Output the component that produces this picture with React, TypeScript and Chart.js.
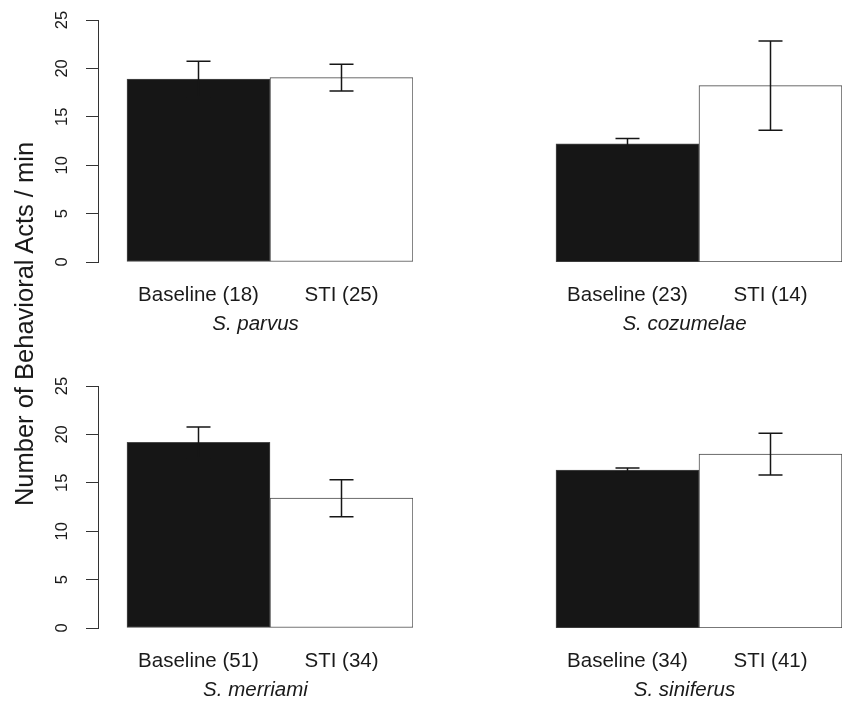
import React, { useEffect, useRef } from 'react';
import { Chart, registerables } from 'chart.js';

Chart.register(...registerables);

// ---- data ----
const groups = ['Baseline', 'STI'];
const species = ['S. parvus', 'S. cozumelae', 'S. merriami', 'S. siniferus'];
const sampleSizes = [
  [18, 25],
  [23, 14],
  [51, 34],
  [34, 41],
];
const meanActs = [
  [18.9, 19.05],
  [12.2, 18.22],
  [19.18, 13.41],
  [16.32, 17.96],
];
const errActs = [
  [1.83, 1.38],
  [0.55, 4.6],
  [1.58, 1.91],
  [0.21, 2.15],
];
const yTicks = [0, 5, 10, 15, 20, 25];
const yTitle = 'Number of Behavioral Acts / min';

// ---- style ----
const FONT = "'Liberation Sans', Arial, Helvetica, sans-serif";
const TEXT = '#1a1a1a';
const AXIS = '#333333';
const barFill = ['#161616', '#ffffff'];

const errorBarPlugin = {
  id: 'errorBars',
  afterDatasetsDraw(chart: any, _args: any, opts: any) {
    const errs: number[] = opts.errors || [];
    const meta = chart.getDatasetMeta(0);
    const ys = chart.scales.y;
    const ctx = chart.ctx;
    ctx.save();
    ctx.strokeStyle = opts.color;
    ctx.lineWidth = opts.lineWidth;
    meta.data.forEach((bar: any, i: number) => {
      const v = chart.data.datasets[0].data[i].y;
      const e = errs[i];
      const top = ys.getPixelForValue(v + e);
      const bot = ys.getPixelForValue(v - e);
      const half = opts.capWidth / 2;
      ctx.beginPath();
      ctx.moveTo(bar.x, top);
      ctx.lineTo(bar.x, bot);
      ctx.moveTo(bar.x - half, top);
      ctx.lineTo(bar.x + half, top);
      ctx.moveTo(bar.x - half, bot);
      ctx.lineTo(bar.x + half, bot);
      ctx.stroke();
    });
    ctx.restore();
  },
};

const PANEL_W = 420;
const PANEL_H = 336;

function Panel({ index, left, top, showAxis }: { index: number; left: number; top: number; showAxis: boolean }) {
  const ref = useRef<HTMLCanvasElement | null>(null);
  useEffect(() => {
    if (!ref.current) return;
    const chart = new Chart(ref.current, {
      type: 'bar',
      data: {
        datasets: [
          {
            data: meanActs[index].map((v, i) => ({ x: i + 0.5, y: v })) as any,
            backgroundColor: barFill,
            borderColor: '#4a4a4a',
            borderWidth: 1,
            borderSkipped: false,
            categoryPercentage: 1,
            barPercentage: 1,
          },
        ],
      },
      options: {
        animation: false,
        responsive: false,
        events: [],
        layout: { padding: { top: 20, right: 7, bottom: 0, left: 0 } },
        plugins: {
          legend: { display: false },
          tooltip: { enabled: false },
          errorBars: { errors: errActs[index], color: '#161616', lineWidth: 1.5, capWidth: 24 },
        } as any,
        scales: {
          x: {
            type: 'linear',
            offset: false,
            min: -29 / 143,
            max: groups.length,
            afterBuildTicks: (s: any) => {
              s.ticks = groups.map((_, i) => ({ value: i + 0.5 }));
            },
            afterFit: (s: any) => {
              s.height = PANEL_H - 262;
              s.paddingLeft = 0;
              s.paddingRight = 0;
            },
            grid: { display: false, offset: false },
            border: { display: false },
            ticks: {
              autoSkip: false,
              maxRotation: 0,
              minRotation: 0,
              padding: 13,
              color: TEXT,
              font: { family: FONT, size: 20.5 },
              callback: (_v: any, i: number) => `${groups[i]} (${sampleSizes[index][i]})`,
            },
            title: {
              display: true,
              text: species[index],
              color: TEXT,
              font: { family: FONT, size: 20.5, style: 'italic' },
              padding: { top: 0, bottom: -1 },
            },
          },
          y: {
            type: 'linear',
            min: 0,
            max: 25,
            afterBuildTicks: (s: any) => {
              s.ticks = yTicks.map((v) => ({ value: v }));
            },
            afterFit: (s: any) => {
              s.width = 98;
              s.paddingTop = 0;
              s.paddingBottom = 0;
            },
            grid: {
              display: showAxis,
              drawOnChartArea: false,
              drawTicks: true,
              tickLength: 12,
              color: AXIS,
              lineWidth: 1,
            },
            border: { display: showAxis, color: AXIS, width: 1 },
            ticks: {
              display: showAxis,
              minRotation: 90,
              maxRotation: 90,
              crossAlign: 'center',
              padding: 14,
              color: TEXT,
              font: { family: FONT, size: 16.5 },
            },
          },
        } as any,
      },
      plugins: [errorBarPlugin as any],
    });
    return () => chart.destroy();
  }, [index, showAxis]);
  return (
    <canvas
      ref={ref}
      width={PANEL_W}
      height={PANEL_H}
      style={{ position: 'absolute', left, top, display: 'block' }}
    />
  );
}

export default function App() {
  return (
    <div
      style={{
        position: 'absolute',
        left: 0,
        top: 0,
        width: 843,
        height: 701,
        overflow: 'hidden',
        background: '#ffffff',
      }}
    >
      <Panel index={0} left={0} top={0} showAxis={true} />
      <Panel index={1} left={429} top={0} showAxis={false} />
      <Panel index={2} left={0} top={366} showAxis={true} />
      <Panel index={3} left={429} top={366} showAxis={false} />
      <div
        style={{
          position: 'absolute',
          left: 24 - 250,
          top: 324 - 15,
          width: 500,
          height: 30,
          lineHeight: '30px',
          textAlign: 'center',
          transform: 'rotate(-90deg)',
          fontFamily: FONT,
          fontSize: 25.5,
          color: TEXT,
          whiteSpace: 'nowrap',
        }}
      >
        {yTitle}
      </div>
    </div>
  );
}
